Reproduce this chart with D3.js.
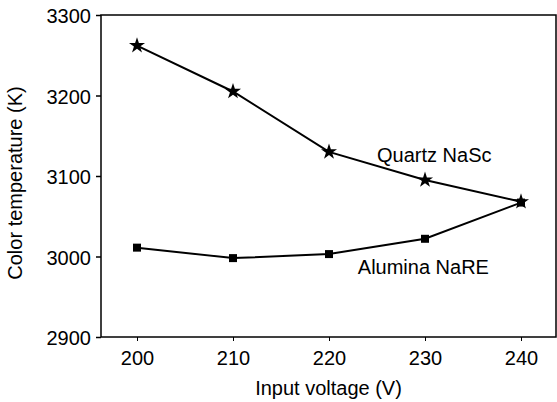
<!DOCTYPE html>
<html>
<head>
<meta charset="utf-8">
<script src="https://cdn.jsdelivr.net/npm/d3@7"></script>
<style>
  html, body { margin: 0; padding: 0; background: #fff; }
  svg { display: block; font-family: "Liberation Sans", Arial, sans-serif; }
  .axis text { font-size: 20px; fill: #000; }
  .axis path, .axis line { stroke: #000; }
</style>
</head>
<body>
<svg id="chart" width="557" height="402"></svg>
<script>
  // chart data
  const voltages = [200, 210, 220, 230, 240];
  const quartzNaSc = [3262, 3205, 3130, 3095, 3068];
  const aluminaNaRE = [3011, 2998, 3003, 3022, 3067];
  const xTicks = [200, 210, 220, 230, 240];
  const yTicks = [2900, 3000, 3100, 3200, 3300];

  (function () {
    const svg = d3.select('#chart');
    const mL = 101, mR = 557, mT = 15, mB = 337;

    const x = d3.scaleLinear().domain([196.25, 243.75]).range([mL, mR]);
    const y = d3.scaleLinear().domain([2900, 3300]).range([mB, mT]);

    // frame
    svg.append('rect')
      .attr('x', mL).attr('y', mT)
      .attr('width', mR - mL - 1).attr('height', mB - mT)
      .attr('fill', 'none').attr('stroke', '#000').attr('stroke-width', 1.5);

    const xAxis = svg.append('g')
      .attr('class', 'axis')
      .attr('transform', 'translate(0,' + mB + ')')
      .call(d3.axisBottom(x).tickValues(xTicks).tickFormat(d3.format('d'))
        .tickSize(4).tickPadding(10).tickSizeOuter(0));
    xAxis.select('.domain').remove();
    xAxis.selectAll('line').attr('stroke-width', 1);

    const yAxis = svg.append('g')
      .attr('class', 'axis')
      .attr('transform', 'translate(' + mL + ',0)')
      .call(d3.axisLeft(y).tickValues(yTicks).tickFormat(d3.format('d'))
        .tickSize(5).tickPadding(5).tickSizeOuter(0));
    yAxis.select('.domain').remove();
    yAxis.selectAll('line').attr('stroke-width', 1.5);
    yAxis.selectAll('text').attr('dy', '0.38em');

    const line = d3.line().x(d => x(d[0])).y(d => y(d[1]));

    function series(vals) {
      return voltages.map((v, i) => [v, vals[i]]);
    }

    // Alumina NaRE (squares)
    const alumina = series(aluminaNaRE);
    svg.append('path').datum(alumina)
      .attr('d', line).attr('fill', 'none').attr('stroke', '#000').attr('stroke-width', 2);
    svg.selectAll('path.sq').data(alumina).enter().append('path')
      .attr('class', 'sq')
      .attr('d', d3.symbol().type(d3.symbolSquare).size(64))
      .attr('transform', d => 'translate(' + x(d[0]) + ',' + y(d[1]) + ')')
      .attr('fill', '#000');

    // Quartz NaSc (stars)
    const quartz = series(quartzNaSc);
    svg.append('path').datum(quartz)
      .attr('d', line).attr('fill', 'none').attr('stroke', '#000').attr('stroke-width', 2);
    svg.selectAll('path.st').data(quartz).enter().append('path')
      .attr('class', 'st')
      .attr('d', d3.symbol().type(d3.symbolStar).size(80))
      .attr('transform', d => 'translate(' + x(d[0]) + ',' + y(d[1]) + ')')
      .attr('fill', '#000');

    // series labels
    svg.append('text')
      .attr('x', x(225)).attr('y', y(3118))
      .attr('font-size', 20).text('Quartz NaSc');
    svg.append('text')
      .attr('x', x(223)).attr('y', y(2978))
      .attr('font-size', 20).text('Alumina NaRE');

    // axis titles
    svg.append('text')
      .attr('x', (255 + 402) / 2).attr('y', 395)
      .attr('text-anchor', 'middle').attr('font-size', 20)
      .text('Input voltage (V)');
    svg.append('text')
      .attr('transform', 'translate(22,183) rotate(-90)')
      .attr('text-anchor', 'middle').attr('font-size', 20)
      .text('Color temperature (K)');
  })();
</script>
</body>
</html>
